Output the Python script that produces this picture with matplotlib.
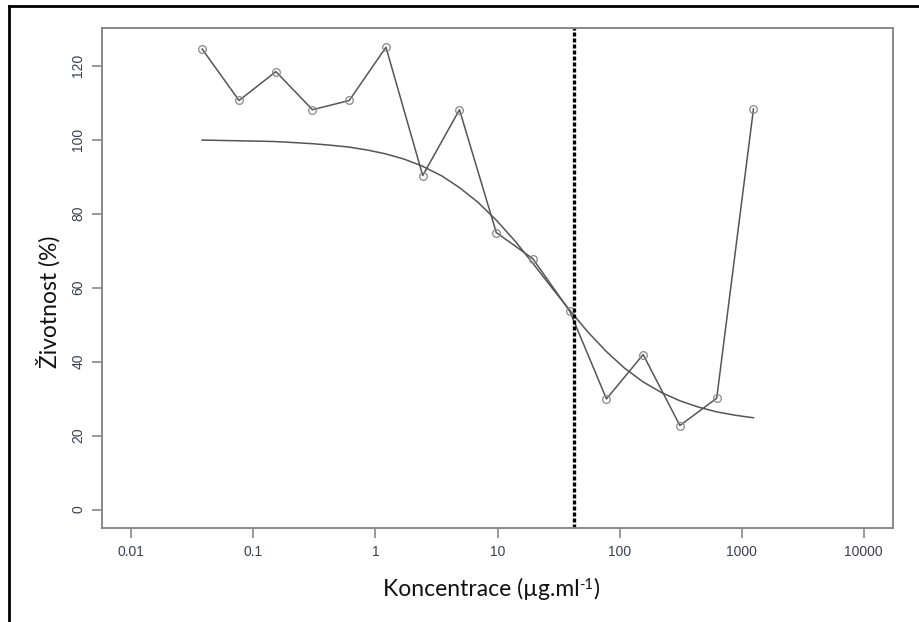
import matplotlib
matplotlib.use("Agg")
import matplotlib.pyplot as plt
from matplotlib.lines import Line2D

# measured points (2-fold dilution series)
conc = [0.0381, 0.0763, 0.153, 0.305, 0.61, 1.22, 2.44, 4.88, 9.77, 19.5, 39.1,
        78.1, 156, 312, 625, 1250]
viability = [124.5, 110.6, 118.4, 108.1, 110.6, 125.0, 90.3, 108.1, 74.9, 67.8,
             53.6, 29.9, 41.9, 22.7, 30.1, 108.3]

# fitted curve
fit_conc = [0.038, 0.054, 0.076, 0.11, 0.15, 0.22, 0.31, 0.43, 0.61, 0.86, 1.2,
            1.7, 2.4, 3.5, 4.9, 6.9, 9.8, 14, 20, 28, 39, 55, 78, 110, 156, 221,
            312, 442, 625, 884, 1250]
fit_viab = [99.9, 99.8, 99.7, 99.6, 99.5, 99.2, 98.9, 98.5, 98.0, 97.2, 96.2,
            94.8, 92.9, 90.2, 87.0, 83.1, 78.2, 72.5, 66.1, 59.9, 53.9, 48.0,
            42.7, 38.2, 34.5, 31.6, 29.4, 27.7, 26.4, 25.5, 24.8]

ec50 = 42.5
x_ticks = [0.01, 0.1, 1, 10, 100, 1000, 10000]
x_ticklabels = ["0.01", "0.1", "1", "10", "100", "1000", "10000"]
y_ticks = [0, 20, 40, 60, 80, 100, 120]

W, H = 920, 622
fig = plt.figure(figsize=(W / 100, H / 100), dpi=100)
ax = fig.add_axes([102 / W, 1 - 528 / H, (893 - 102) / W, (528 - 28) / H])

ax.plot(fit_conc, fit_viab, color="#555555", lw=1.1)
ax.plot(conc, viability, color="#555555", lw=1.1, marker="o", ms=5.5,
        mfc="none", mec="#888888", mew=0.9)
ax.axvline(ec50, color="black", lw=2.4, ls=(0, (1.2, 0.6)))

ax.set_xscale("log")
ax.set_xlim(10 ** -2.24, 10 ** 4.24)
ax.set_ylim(-5, 130.2)
ax.set_xticks(x_ticks)
ax.set_xticklabels(x_ticklabels)
ax.minorticks_off()
ax.set_yticks(y_ticks)
ax.set_yticklabels([str(v) for v in y_ticks], rotation=90, va="center")

for s in ax.spines.values():
    s.set_color("#888888")
    s.set_linewidth(1.4)
ax.tick_params(length=7, width=1.2, color="#888888", labelcolor="#3a4050",
               labelsize=10, pad=5)
for lab in ax.get_xticklabels() + ax.get_yticklabels():
    lab.set_family("Liberation Sans")

lab_font = dict(family="Lato", color="#111111")
fig.text(48 / W, 1 - 302 / H, "Životnost (%)", rotation=90, ha="center",
         va="center", fontsize=16.5, **lab_font)

# x label with a small raised "-1", built from three pieces
r = fig.canvas.get_renderer()
base_y = 1 - 596 / H
parts = [("Koncentrace (µg.ml", 16.5, 0), ("-1", 10.5, 7), (")", 16.5, 0)]
texts = [fig.text(0, base_y + dy / H, s, fontsize=fs, va="baseline", **lab_font)
         for s, fs, dy in parts]
widths = [t.get_window_extent(r).width for t in texts]
x = 491 - sum(widths) / 2
for t, w in zip(texts, widths):
    t.set_x(x / W)
    x += w

# outer frame of the screenshot (left and top edges only)
fig.add_artist(Line2D([9 / W, 9 / W], [0, 1 - 6 / H], color="black", lw=2,
                      transform=fig.transFigure))
fig.add_artist(Line2D([9 / W, 1], [1 - 6 / H, 1 - 6 / H], color="black", lw=2,
                      transform=fig.transFigure))

fig.savefig("out.png", dpi=100)
